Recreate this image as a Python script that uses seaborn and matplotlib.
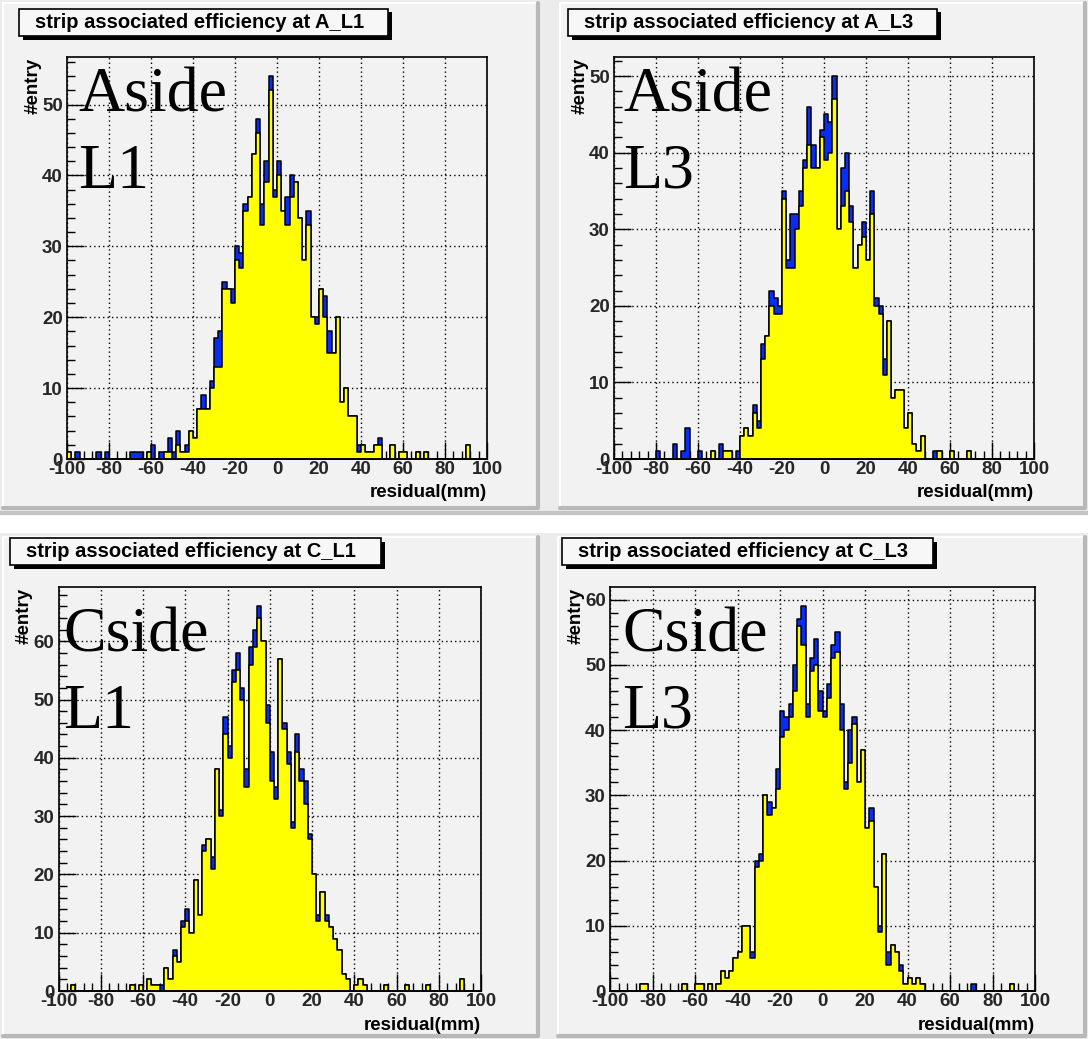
import numpy as np
import pandas as pd
import matplotlib
matplotlib.use("Agg")
import matplotlib.pyplot as plt
import seaborn as sns
from matplotlib.patches import Rectangle
from matplotlib.lines import Line2D
from matplotlib.ticker import MultipleLocator

# ---------------- data (2 mm bins from -100 to 100) ----------------
bin_edges = np.arange(-100, 101, 2)
bin_centers = (bin_edges[:-1] + bin_edges[1:]) / 2

a_l1_all = [1, 0, 1, 0, 0, 0, 0, 1, 0, 1,
            0, 0, 0, 0, 0, 1, 1, 1, 0, 1,
            2, 0, 1, 1, 3, 1, 4, 1, 2, 4,
            3, 7, 9, 7, 11, 17, 18, 25, 24, 24,
            30, 29, 36, 37, 43, 48, 36, 42, 54, 38,
            42, 35, 37, 40, 39, 34, 28, 35, 20, 20,
            24, 23, 18, 15, 20, 8, 10, 6, 6, 2,
            2, 1, 1, 2, 3, 0, 0, 2, 0, 1,
            1, 0, 0, 1, 0, 1, 0, 0, 0, 0,
            0, 0, 0, 0, 0, 2, 0, 0, 0, 0]
a_l1_assoc = [1, 0, 0, 0, 0, 0, 0, 0, 0, 0,
              0, 0, 0, 0, 0, 0, 0, 0, 0, 1,
              0, 0, 0, 1, 1, 0, 2, 1, 1, 4,
              3, 7, 7, 7, 10, 13, 13, 24, 24, 22,
              28, 27, 35, 37, 43, 46, 33, 39, 52, 37,
              40, 35, 33, 37, 39, 34, 28, 33, 20, 19,
              24, 20, 15, 15, 20, 8, 10, 6, 6, 1,
              2, 1, 1, 2, 2, 0, 0, 2, 0, 1,
              1, 0, 0, 1, 0, 1, 0, 0, 0, 0,
              0, 0, 0, 0, 0, 2, 0, 0, 0, 0]

a_l3_all = [0, 0, 0, 0, 0, 0, 0, 0, 0, 0,
            1, 0, 0, 0, 2, 0, 1, 4, 0, 0,
            1, 0, 0, 1, 0, 2, 1, 1, 0, 1,
            3, 4, 3, 7, 5, 15, 16, 22, 21, 20,
            35, 26, 32, 32, 35, 39, 46, 41, 38, 43,
            45, 44, 50, 30, 38, 40, 33, 25, 28, 31,
            26, 35, 21, 20, 13, 18, 8, 9, 9, 4,
            6, 2, 1, 3, 0, 0, 1, 1, 0, 0,
            1, 0, 0, 0, 1, 0, 0, 0, 0, 0,
            0, 0, 0, 0, 0, 0, 0, 0, 0, 0]
a_l3_assoc = [0, 0, 0, 0, 0, 0, 0, 0, 0, 0,
              0, 0, 0, 0, 0, 0, 0, 0, 0, 0,
              0, 0, 0, 1, 0, 0, 1, 1, 0, 0,
              3, 4, 3, 6, 4, 13, 16, 20, 19, 19,
              34, 25, 25, 30, 33, 38, 41, 38, 38, 42,
              39, 40, 47, 30, 33, 35, 31, 25, 28, 29,
              26, 32, 20, 19, 11, 18, 8, 9, 9, 4,
              6, 2, 1, 3, 0, 0, 0, 1, 0, 0,
              1, 0, 0, 0, 1, 0, 0, 0, 0, 0,
              0, 0, 0, 0, 0, 0, 0, 0, 0, 0]

c_l1_all = [0, 0, 0, 1, 0, 0, 0, 0, 0, 0,
            0, 0, 0, 0, 0, 0, 0, 1, 0, 1,
            0, 2, 1, 1, 1, 4, 2, 7, 5, 12,
            14, 10, 19, 13, 25, 26, 23, 38, 31, 47,
            42, 55, 58, 52, 38, 59, 62, 66, 60, 49,
            41, 35, 57, 46, 41, 29, 44, 38, 36, 27,
            20, 13, 17, 13, 11, 9, 7, 3, 2, 0,
            1, 2, 1, 0, 0, 0, 0, 1, 0, 0,
            0, 0, 1, 0, 0, 0, 0, 1, 0, 0,
            0, 0, 0, 0, 0, 2, 0, 0, 0, 0]
c_l1_assoc = [0, 0, 0, 1, 0, 0, 0, 0, 0, 0,
              0, 0, 0, 0, 0, 0, 0, 1, 0, 1,
              0, 2, 1, 1, 0, 4, 2, 6, 5, 11,
              12, 10, 19, 13, 24, 26, 21, 38, 30, 44,
              40, 53, 55, 50, 35, 56, 59, 64, 60, 46,
              36, 33, 57, 45, 39, 28, 41, 36, 32, 26,
              20, 12, 17, 12, 11, 9, 7, 3, 2, 0,
              1, 2, 1, 0, 0, 0, 0, 1, 0, 0,
              0, 0, 1, 0, 0, 0, 0, 1, 0, 0,
              0, 0, 0, 0, 0, 2, 0, 0, 0, 0]

c_l3_all = [0, 0, 0, 0, 0, 0, 0, 1, 1, 0,
            0, 0, 0, 0, 0, 0, 0, 1, 0, 0,
            1, 1, 0, 1, 0, 1, 3, 2, 3, 5,
            6, 10, 10, 6, 20, 21, 30, 29, 28, 34,
            43, 42, 44, 50, 57, 59, 44, 51, 54, 46,
            43, 47, 53, 55, 44, 32, 40, 42, 32, 37,
            25, 28, 16, 10, 21, 6, 7, 6, 4, 1,
            2, 1, 2, 1, 0, 0, 0, 0, 0, 0,
            0, 0, 0, 0, 0, 1, 0, 0, 0, 0,
            0, 0, 0, 0, 1, 0, 0, 0, 0, 0]
c_l3_assoc = [0, 0, 0, 0, 0, 0, 0, 1, 1, 0,
              0, 0, 0, 0, 0, 0, 0, 1, 0, 0,
              1, 1, 0, 1, 0, 1, 3, 2, 3, 5,
              6, 10, 10, 5, 19, 20, 30, 27, 28, 31,
              39, 40, 42, 46, 56, 53, 42, 49, 50, 43,
              42, 45, 51, 52, 40, 31, 35, 41, 32, 37,
              25, 26, 16, 9, 21, 4, 7, 6, 3, 1,
              2, 1, 2, 1, 0, 0, 0, 0, 0, 0,
              0, 0, 0, 0, 0, 0, 0, 0, 0, 0,
              0, 0, 0, 0, 1, 0, 0, 0, 0, 0]

titles = ["strip associated efficiency at A_L1",
          "strip associated efficiency at A_L3",
          "strip associated efficiency at C_L1",
          "strip associated efficiency at C_L3"]
side_names = ["Aside", "Aside", "Cside", "Cside"]
layer_names = ["L1", "L3", "L1", "L3"]
x_tick_values = [-100, -80, -60, -40, -20, 0, 20, 40, 60, 80, 100]
x_label = "residual(mm)"
y_label = "#entry"

all_series = [a_l1_all, a_l3_all, c_l1_all, c_l3_all]
assoc_series = [a_l1_assoc, a_l3_assoc, c_l1_assoc, c_l3_assoc]

# ---------------- style ----------------
W, H = 1088, 1039
BLUE = "#0a2df5"
YELLOW = "#ffff00"
PADC = "#f2f2f2"
sns.set_theme(style="white")
plt.rcParams["font.family"] = ["Liberation Sans", "DejaVu Sans"]

fig = plt.figure(figsize=(W / 100, H / 100), dpi=100)
fig.patch.set_facecolor("white")


def fx(x):
    return x / W


def fy(y):
    return 1 - y / H


def frect(x0, y0, x1, y1, **kw):
    r = Rectangle((fx(x0), fy(y1)), fx(x1) - fx(x0), fy(y0) - fy(y1),
                  transform=fig.transFigure, **kw)
    fig.patches.append(r)


def fline(xs, ys, **kw):
    fig.lines.append(Line2D([fx(v) for v in xs], [fy(v) for v in ys],
                            transform=fig.transFigure, **kw))


# rows of the canvas
frect(0, 0, W, 515, facecolor="#ececec", edgecolor="none", zorder=0)
frect(0, 533, W, H, facecolor="#ececec", edgecolor="none", zorder=0)
fline([0, W], [513, 513], color="#c4c4c4", lw=3, zorder=1)

pads = [(3, 3, 538, 508), (560, 3, 1085, 508),
        (3, 537, 538, 1036), (558, 537, 1085, 1036)]
for (x0, y0, x1, y1) in pads:
    frect(x0, y0, x1, y1, facecolor=PADC, edgecolor="none", zorder=1)
    fline([x0, x0, x1], [y1, y0, y0], color="white", lw=1.5, zorder=2)
    fline([x0, x1, x1], [y1, y1, y0], color="#b8b8b8", lw=3, zorder=2)

axes_px = [(67, 57, 487, 459), (614, 57, 1034, 459),
           (58.5, 587, 481, 991), (610, 587, 1035, 991)]
title_px = [(19, 9, 388, 36), (568, 9, 937, 36),
            (10, 538, 381, 565), (562, 538, 933, 565)]
big_text_px = [(78, 112, 188), (623, 112, 188), (63, 652, 728), (622, 652, 728)]

for k in range(4):
    x0, y0, x1, y1 = axes_px[k]
    ax = fig.add_axes([fx(x0), fy(y1), fx(x1) - fx(x0), fy(y0) - fy(y1)])
    ax.set_zorder(2.5)
    ax.set_facecolor(PADC)
    df = pd.DataFrame({"residual": bin_centers,
                       "all": all_series[k],
                       "assoc": assoc_series[k]})
    sns.histplot(data=df, x="residual", weights="all", binwidth=2,
                 binrange=(-100, 100),
                 element="step", fill=True, color=BLUE, alpha=1,
                 edgecolor="black", linewidth=1.1, ax=ax, zorder=3)
    sns.histplot(data=df, x="residual", weights="assoc", binwidth=2,
                 binrange=(-100, 100),
                 element="step", fill=True, color=YELLOW, alpha=1,
                 edgecolor="black", linewidth=1.1, ax=ax, zorder=4)
    ymax = 1.05 * max(all_series[k])
    ax.set_xlim(-100, 100)
    ax.set_ylim(0, ymax)
    ax.set_xticks(x_tick_values)
    ax.set_xticklabels([str(v) for v in x_tick_values])
    ax.xaxis.set_minor_locator(MultipleLocator(4))
    ax.yaxis.set_major_locator(MultipleLocator(10))
    ax.yaxis.set_minor_locator(MultipleLocator(2))
    ax.tick_params(axis="both", which="major", direction="in", length=12,
                   width=1, color="black", labelsize=13.5, pad=3,
                   top=False, right=False, bottom=True, left=True)
    ax.tick_params(axis="both", which="minor", direction="in", length=6,
                   width=1, color="black", top=False, right=False,
                   bottom=True, left=True)
    ax.tick_params(axis="x", which="major", pad=1.5)
    for lab in ax.get_xticklabels() + ax.get_yticklabels():
        lab.set_fontweight("bold")
    ax.grid(True, which="major", color="black", linestyle=(0, (1, 2.2)),
            linewidth=1.0, zorder=5)
    ax.set_axisbelow(False)
    for s in ax.spines.values():
        s.set_color("black")
        s.set_linewidth(1.2)
        s.set_zorder(6)
    ax.set_xlabel("")
    ax.set_ylabel("")
    # axis titles
    fig.text(fx(x1), fy(y1 + 34), x_label, ha="right", va="center",
             fontsize=13.5, fontweight="bold", color="black")
    fig.text(fx(x0 - 34), fy(y0 + 1), y_label, ha="center", va="top",
             rotation=90, fontsize=13.5, fontweight="bold", color="black")
    # big annotation
    bx, b1, b2 = big_text_px[k]
    fig.text(fx(bx), fy(b1), side_names[k], ha="left", va="baseline",
             fontsize=46, family="Liberation Serif", color="black", zorder=10)
    fig.text(fx(bx), fy(b2), layer_names[k], ha="left", va="baseline",
             fontsize=46, family="Liberation Serif", color="black", zorder=10)
    # title box with shadow
    tx0, ty0, tx1, ty1 = title_px[k]
    frect(tx0 + 3.5, ty0 + 3.5, tx1 + 3.5, ty1 + 3.5, facecolor="black",
          edgecolor="none", zorder=3)
    frect(tx0, ty0, tx1, ty1, facecolor="#f7f7f7", edgecolor="black",
          linewidth=1.2, zorder=4)
    fig.text(fx(tx0 + 16), fy((ty0 + ty1) / 2), titles[k], ha="left",
             va="center", fontsize=14.5, fontweight="bold", color="black",
             zorder=5)

fig.savefig("out.png", dpi=100, facecolor="white")
